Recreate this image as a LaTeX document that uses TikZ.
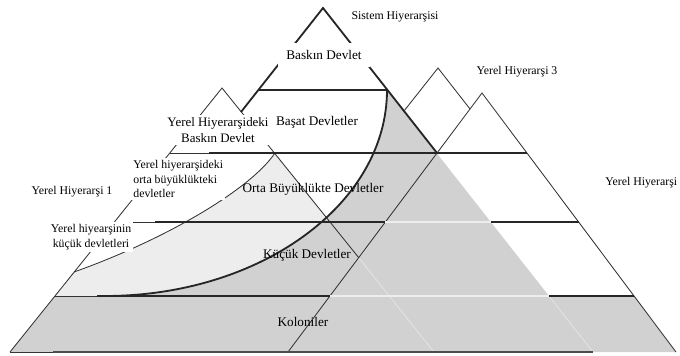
\documentclass[tikz,border=0pt]{standalone}
\usepackage{fontspec}
\setmainfont{Liberation Serif}
\begin{document}
\begin{tikzpicture}[x=0.025cm, y=0.025cm,
        thinline/.style={line width=0.6pt, black!80},
        bandline/.style={line width=1.3pt, black!85},
        fadedline/.style={line width=0.6pt, black!11},
        paleband/.style={line width=1.3pt, black!7},
        mainlabel/.style={font=\fontsize{9.4}{11}\selectfont},
        locallabel/.style={font=\fontsize{8.4}{10.2}\selectfont},
        maskedlabel/.style={fill=white, inner sep=1.5pt}]
        \tikzstyle{every node}+=[inner sep=0pt]
        \useasboundingbox (0,0) rectangle (680,-356);
        % grey areas
        \fill [black!7] (275,-153) -- (390,-296) -- (55,-296) -- (74,-272) .. controls (164,-240) and (250,-190) .. (275,-153);
        \fill [black!18] (387,-90) arc (0:-90:282 and 206) -- (55,-296) -- (10,-352) -- (676,-352) -- (634,-296) -- (549,-296) -- cycle;
        % local hierarchies
        \draw [thinline] (404,-111) -- (438,-68) -- (470,-109);
        \draw [thinline] (288,-352) -- (482,-93) -- (676,-352);
        \draw [thinline] (10,-352) -- (222,-88) -- (359,-258);
        \draw [fadedline] (359,-258) -- (434,-352);
        \draw [fadedline] (549,-296) -- (593,-352);
        \draw [thinline] (170,-153) -- (209,-153);
        \draw [thinline] (115,-222) -- (155,-222);
        \draw [thinline] (55,-296) -- (97,-296);
        \draw [thinline] (10,-352) -- (53,-352);
        \draw [thinline] (74,-272) .. controls (164,-240) and (250,-190) .. (275,-153);
        % system hierarchy
        \draw [bandline] (241,-112) -- (323,-8) -- (437,-153);
        \draw [bandline] (259,-90) -- (387,-90);
        \draw [bandline] (209,-153) -- (527,-153);
        \draw [bandline] (155,-222) -- (385,-222);
        \draw [paleband] (385,-222) -- (491,-222);
        \draw [bandline] (491,-222) -- (579,-222);
        \draw [bandline] (97,-296) -- (330,-296);
        \draw [paleband] (330,-296) -- (549,-296);
        \draw [bandline] (549,-296) -- (634,-296);
        \draw [bandline, black!70] (53,-352) -- (593,-352);
        \draw [bandline] (387,-90) arc (0:-90:282 and 206);
        % labels
        \node [locallabel] (sistem) at (395,-17) {Sistem Hiyerarşisi};
        \node [mainlabel, fill=white, inner xsep=5.8pt, inner ysep=5pt] (baskin) at (324,-55) {Baskın Devlet};
        \node [mainlabel] (basat) at (317,-122) {Başat Devletler};
        \node [maskedlabel, align=center, font=\fontsize{9.2}{11.2}\selectfont] (ylbaskin) at (218,-130) {Yerel Hiyerarşideki\\Baskın Devlet};
        \node [locallabel, maskedlabel, align=left, anchor=west] (ylorta) at (131,-179) {Yerel hiyerarşideki\\orta büyüklükteki\\devletler};
        \node [locallabel] (yh1) at (72,-192) {Yerel Hiyerarşi 1};
        \node [mainlabel] (orta) at (313,-189) {Orta Büyüklükte Devletler};
        \node [locallabel, maskedlabel, align=center] (ylkucuk) at (91,-237) {Yerel hiyearşinin\\küçük devletleri};
        \node [mainlabel] (kucuk) at (307,-255) {Küçük Devletler};
        \node [mainlabel] (koloni) at (303,-322) {Koloniler};
        \node [locallabel] (yh3) at (517,-72) {Yerel Hiyerarşi 3};
        \node [locallabel, anchor=west] (yhsag) at (605,-183) {Yerel Hiyerarşi};
\end{tikzpicture}
\end{document}
